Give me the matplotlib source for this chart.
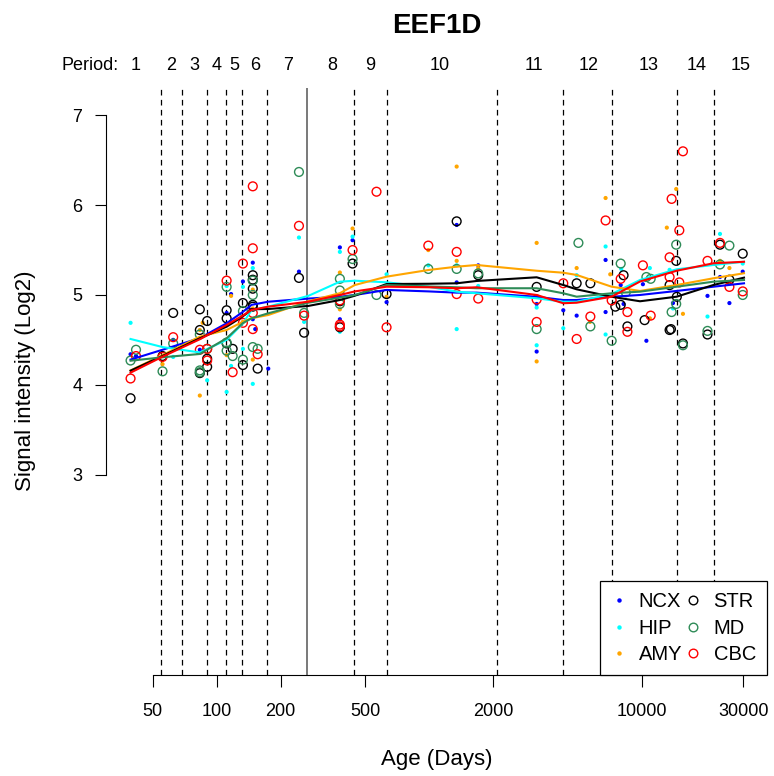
import matplotlib
matplotlib.use("Agg")
import matplotlib.pyplot as plt
import matplotlib.transforms as mtransforms
from matplotlib.lines import Line2D

plt.rcParams['font.family'] = ['Liberation Sans', 'DejaVu Sans']

# period boundaries (age in days), birth at 266
period_bounds = [55, 69, 90, 111, 132, 173, 445, 631, 2093, 4277, 7210, 14580, 21830]
birth_age = 266
period_names = [str(i) for i in range(1, 16)]
period_label_ages = [41.7, 61, 79, 100, 121, 152, 216, 350, 530, 1120, 3100, 5600, 10700, 18000, 29000]

x_ticks = [50, 100, 200, 500, 2000, 10000, 30000]
y_ticks = [3, 4, 5, 6, 7]

# smoothed curves, common ages
curve_age = [39.4, 55.7, 83.4, 111.5, 132.6, 146, 175, 270, 380, 447, 630, 990, 1346, 1671,
             3200, 4270, 4935, 7210, 9800, 14575, 21675, 30220]
ncx_curve = [4.28, 4.39, 4.52, 4.685, 4.81, 4.89, 4.925, 4.96, 4.98, 5.0, 5.056, 5.04, 5.026, 5.026,
             4.98, 4.944, 4.944, 4.98, 5.0, 5.045, 5.092, 5.13]
hip_curve = [4.51, 4.42, 4.36, 4.50, 4.68, 4.83, 4.87, 4.99, 5.148, 5.159, 5.141, 5.092, 5.037, 5.019,
             4.963, 4.925, 4.925, 5.011, 5.167, 5.286, 5.334, 5.37]
amy_curve = [4.16, 4.33, 4.536, 4.61, 4.70, 4.741, 4.777, 4.93, 5.02, 5.111, 5.204, 5.278, 5.315, 5.334,
             5.27, 5.248, 5.223, 5.092, 5.045, 5.111, 5.186, 5.242]
str_curve = [4.157, 4.321, 4.518, 4.647, 4.76, 4.841, 4.844, 4.878, 4.944, 4.992, 5.122, 5.125, 5.13, 5.156,
             5.197, 5.111, 5.063, 4.98, 4.93, 4.981, 5.111, 5.193]
md_curve = [4.268, 4.306, 4.343, 4.518, 4.685, 4.74, 4.796, 4.914, 4.97, 5.0, 5.111, 5.095, 5.086, 5.075,
            5.075, 5.019, 4.981, 5.019, 5.037, 5.092, 5.148, 5.167]
cbc_curve = [4.135, 4.313, 4.507, 4.666, 4.77, 4.833, 4.87, 4.925, 5.0, 5.04, 5.092, 5.086, 5.075, 5.086,
             5.0, 4.908, 4.914, 4.981, 5.15, 5.27, 5.353, 5.37]

# samples
ncx_age = [39.4, 41.8, 62.5, 83.4, 117, 111.5, 133, 148, 148, 152, 175, 244, 380, 380, 436, 630, 1346, 1346,
           1700, 3200, 3200, 4270, 4935, 6750, 6750, 7950, 8200, 10110, 10500, 14000, 20350, 23300, 25800, 29800]
ncx_val = [4.34, 4.32, 4.50, 4.39, 5.01, 4.80, 5.15, 5.36, 4.73, 4.62, 4.18, 5.26, 5.53, 4.73, 5.61, 4.92, 5.78, 5.14,
           5.33, 4.90, 4.37, 4.83, 4.77, 5.39, 4.81, 5.11, 4.90, 5.12, 4.49, 4.91, 4.99, 5.20, 4.91, 5.26]

hip_age = [39.4, 62.5, 90.3, 111.5, 117, 111.5, 133, 133, 148, 148, 244, 258, 380, 380, 436, 630, 990, 1346, 1346,
           1700, 3200, 3200, 4270, 4935, 6750, 6750, 8000, 10900, 13500, 14000, 20350, 23300, 29800]
hip_val = [4.69, 4.31, 4.05, 5.10, 4.21, 3.92, 5.09, 4.40, 5.30, 4.01, 5.64, 4.70, 5.48, 4.59, 5.65, 5.23, 5.33, 5.33, 4.62,
           5.10, 4.86, 4.44, 4.63, 5.22, 5.54, 4.56, 5.29, 5.30, 5.28, 4.85, 4.76, 5.68, 5.35]

amy_age = [55.7, 86, 83.4, 83.4, 117, 111.5, 133, 148, 148, 148, 380, 380, 436, 630, 990, 1346, 1346, 1700,
           3200, 3200, 4935, 5700, 6750, 7100, 10900, 13100, 14500, 15600, 23300, 25800]
amy_val = [4.23, 4.69, 4.61, 3.88, 4.99, 4.33, 4.70, 5.06, 4.85, 4.28, 5.25, 4.84, 5.74, 4.98, 5.50, 6.43, 5.38, 5.30,
           5.58, 4.26, 5.30, 4.70, 6.08, 5.23, 4.74, 5.75, 6.18, 4.79, 5.38, 5.30]

str_age = [39.4, 55.7, 62.5, 83.4, 90.3, 83.4, 90.3, 90.3, 83.4, 111.5, 111.5, 111.5, 119, 133, 133, 148, 148, 148,
           148, 148, 156, 244, 258, 380, 380, 436, 630, 1346, 1700, 3200, 4935, 5725, 7500, 8200, 7950, 8550, 10300,
           13500, 13500, 13700, 14500, 14600, 15600, 20350, 23300, 25800, 29800]
str_val = [3.85, 4.32, 4.80, 4.84, 4.71, 4.61, 4.29, 4.20, 4.13, 4.83, 4.74, 4.46, 4.40, 4.91, 4.22, 5.22, 5.17, 5.07,
           4.89, 4.87, 4.18, 5.19, 4.58, 4.93, 4.64, 5.35, 5.01, 5.82, 5.22, 5.09, 5.13, 5.13, 4.87, 5.22, 4.89, 4.65, 4.72,
           5.11, 4.61, 4.62, 5.38, 4.98, 4.46, 4.56, 5.56, 5.17, 5.46]

md_age = [39.4, 41.8, 55.7, 62.5, 83.4, 83.4, 83.4, 90.3, 111.5, 111.5, 111.5, 119, 133, 133, 148, 148, 148, 156,
          244, 258, 380, 380, 380, 436, 565, 990, 1346, 1700, 3200, 5030, 5725, 7210, 7950, 8400, 10500, 11000,
          14500, 14500, 13800, 15600, 20350, 23300, 25800, 29800]
md_val = [4.27, 4.39, 4.15, 4.46, 4.56, 4.16, 4.14, 4.40, 5.09, 4.47, 4.38, 4.32, 4.82, 4.28, 5.16, 5.00, 4.42, 4.40,
          6.37, 4.80, 5.18, 5.05, 4.90, 5.40, 5.00, 5.29, 5.29, 5.24, 4.62, 5.58, 4.65, 4.49, 5.35, 5.03, 5.20, 5.18,
          5.56, 4.90, 4.81, 4.44, 4.60, 5.34, 5.55, 5.00]

cbc_age = [39.4, 41.8, 55.7, 62.5, 83.4, 90.3, 90.3, 111.5, 119, 133, 133, 148, 148, 148, 148, 156, 244, 258,
           380, 380, 380, 436, 565, 630, 990, 1346, 1346, 1700, 3200, 3200, 4270, 4935, 5725, 6750, 7210, 7950,
           8550, 8550, 10110, 11000, 13800, 13500, 13500, 15600, 15000, 15000, 20350, 23300, 25800, 29800]
cbc_val = [4.07, 4.32, 4.31, 4.53, 4.39, 4.40, 4.27, 5.16, 4.14, 5.35, 4.69, 6.21, 5.52, 4.80, 4.62, 4.34, 5.77, 4.77,
           4.94, 4.67, 4.65, 5.50, 6.15, 4.64, 5.55, 5.48, 5.01, 4.96, 4.95, 4.70, 5.13, 4.51, 4.76, 5.83, 4.94, 5.18,
           4.81, 4.59, 5.33, 4.77, 6.07, 5.42, 5.20, 6.60, 5.72, 5.14, 5.38, 5.58, 5.09, 5.04]

regions = ['NCX', 'HIP', 'AMY', 'STR', 'MD', 'CBC']
colors = ['#0000FF', '#00FFFF', '#FFA500', '#000000', '#2E8B57', '#FF0000']
ages = [ncx_age, hip_age, amy_age, str_age, md_age, cbc_age]
vals = [ncx_val, hip_val, amy_val, str_val, md_val, cbc_val]
curves = [ncx_curve, hip_curve, amy_curve, str_curve, md_curve, cbc_curve]
filled = [True, True, True, False, False, False]

fig = plt.figure(figsize=(7.74, 7.76), dpi=100)
ax = fig.add_axes([106 / 774, 1 - 675 / 776, (767 - 106) / 774, (675 - 88) / 776])
ax.set_xscale('log')
ax.set_xlim(30.2, 38760)
ax.set_ylim(0.768, 7.305)

for b in period_bounds:
    ax.axvline(b, color='black', lw=0.9, ls=(0, (4.5, 3.5)), zorder=1)
ax.axvline(birth_age, color='#555555', lw=1.1, zorder=1)

for a, v, c, f in zip(ages, vals, colors, filled):
    if f:
        ax.scatter(a, v, s=9, color=c, edgecolors='none', zorder=2)
    else:
        ax.scatter(a, v, s=40, facecolors='none', edgecolors=c, linewidths=1.0, zorder=2)

for cv, c in zip(curves, colors):
    ax.plot(curve_age, cv, color=c, lw=1.5, zorder=3)

for s in ['top', 'right']:
    ax.spines[s].set_visible(False)
ax.spines['left'].set_bounds(3, 7)
ax.spines['bottom'].set_bounds(50, 30000)
ax.set_xticks(x_ticks)
ax.set_xticklabels([str(t) for t in x_ticks])
ax.xaxis.set_minor_locator(matplotlib.ticker.NullLocator())
ax.set_yticks(y_ticks)
ax.set_yticklabels([str(t) for t in y_ticks])
ax.tick_params(axis='x', length=8.5, width=0.8, labelsize=13, pad=12)
ax.tick_params(axis='y', length=8, width=0.8, labelsize=13, pad=9)

trans = mtransforms.blended_transform_factory(ax.transData, fig.transFigure)
ty = 1 - 66 / 776
for name, a in zip(period_names, period_label_ages):
    ax.text(a, ty, name, transform=trans, ha='center', va='center', fontsize=13)
ax.text(34.7, ty, 'Period:', transform=trans, ha='right', va='center', fontsize=13)

fig.text(436.5 / 774, 1 - 26 / 776, 'EEF1D', ha='center', va='center', fontsize=20, fontweight='bold')
fig.text(436.5 / 774, 1 - 759 / 776, 'Age (Days)', ha='center', va='center', fontsize=16)
fig.text(25.5 / 774, 1 - 381 / 776, 'Signal intensity (Log2)', ha='center', va='center',
         fontsize=16, rotation=90)

handles = []
for r, c, f in zip(regions, colors, filled):
    if f:
        handles.append(Line2D([], [], ls='none', marker='o', markersize=3.2, color=c, markeredgewidth=0))
    else:
        handles.append(Line2D([], [], ls='none', marker='o', markersize=6.2, markerfacecolor='none',
                              markeredgecolor=c, markeredgewidth=1.0))
leg = ax.legend(handles, regions, ncol=2, loc='lower right', bbox_to_anchor=(1, 0), borderaxespad=0,
                fancybox=False, framealpha=1, edgecolor='black', fontsize=14.5, labelspacing=0.36,
                handlelength=0.8, handletextpad=0.6, columnspacing=0.15, borderpad=0.55)
leg.get_frame().set_linewidth(0.9)

fig.savefig('out.png', dpi=100)
